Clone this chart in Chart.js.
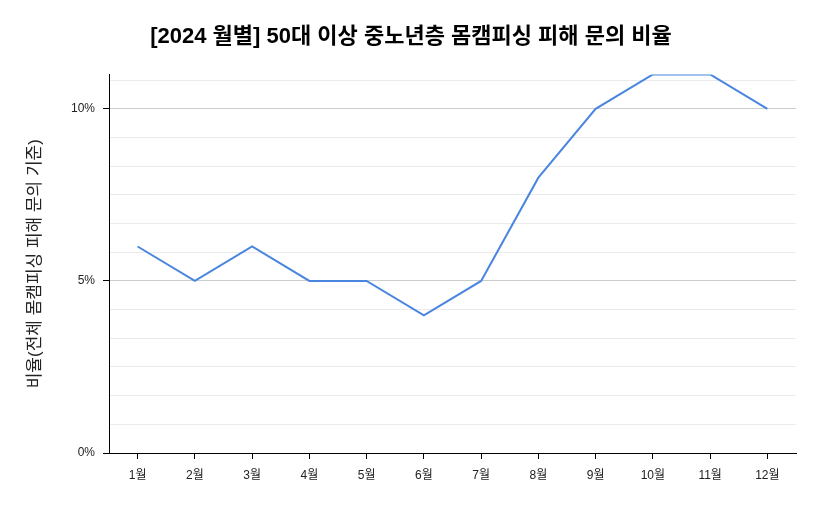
<!DOCTYPE html>
<html>
<head>
<meta charset="utf-8">
<script src="https://cdn.jsdelivr.net/npm/chart.js@4"></script>
<style>
  html, body { margin: 0; padding: 0; background: #fff; }
  #wrap { width: 822px; height: 508px; }
</style>
</head>
<body>
<div id="wrap"><canvas id="myChart" width="822" height="508"></canvas></div>
<script>
const chartTitle = "[2024 월별] 50대 이상 중노년층 몸캠피싱 피해 문의 비율";
const yAxisTitle = "비율(전체 몸캠피싱 피해 문의 기준)";
const months = ["1월", "2월", "3월", "4월", "5월", "6월", "7월", "8월", "9월", "10월", "11월", "12월"];
const ratio = [6, 5, 6, 5, 5, 4, 5, 8, 10, 11, 11, 10];
const yMajorTicks = [0, 5, 10];
const yMax = 11;
const minorPerMajor = 6;

const fontFamily = "'Liberation Sans', 'Noto Sans CJK KR', sans-serif";

function isMajor(v) {
  return yMajorTicks.some((m) => Math.abs(m - v) < 1e-6);
}

const ctx = document.getElementById("myChart").getContext("2d");
const myChart = new Chart(ctx, {
  type: "line",
  data: {
    labels: months,
    datasets: [
      {
        label: "비율",
        data: ratio,
        yAxisID: "y",
        borderColor: "#4a86e0",
        borderWidth: 2,
        pointRadius: 0,
        tension: 0,
        fill: false,
      },
    ],
  },
  options: {
    responsive: false,
    animation: false,
    layout: { padding: 0 },
    plugins: {
      legend: { display: false },
      tooltip: { enabled: false },
      title: {
        display: true,
        text: chartTitle,
        color: "#000",
        font: { family: fontFamily, size: 22, weight: "bold" },
        padding: { top: 24, bottom: 24 },
      },
    },
    scales: {
      x: {
        offset: true,
        border: { color: "#000", width: 1 },
        grid: {
          offset: false,
          drawOnChartArea: false,
          drawTicks: true,
          tickLength: 6,
          tickColor: "#000",
        },
        ticks: {
          color: "#222",
          font: { family: fontFamily, size: 12 },
          padding: 9,
          maxRotation: 0,
          autoSkip: false,
        },
        afterFit: (scale) => {
          scale.height = 508 - 453;
        },
      },
      y: {
        min: 0,
        max: yMax,
        border: { color: "#000", width: 1 },
        afterBuildTicks: (axis) => {
          const step = yMajorTicks[1] / minorPerMajor;
          const ticks = [];
          for (let i = 0; i * step < yMax - 1e-6; i++) {
            ticks.push({ value: i * step });
          }
          axis.ticks = ticks;
        },
        grid: {
          color: (c) => (isMajor(c.tick.value) ? "#cccccc" : "#ebebeb"),
          tickColor: (c) => (isMajor(c.tick.value) ? "#000" : "rgba(0,0,0,0)"),
          tickLength: 6,
          lineWidth: 1,
        },
        ticks: {
          color: "#222",
          font: { family: fontFamily, size: 12 },
          padding: 8,
          callback: (v) => (isMajor(v) ? Math.round(v) + "%" : ""),
        },
        title: {
          display: true,
          text: yAxisTitle,
          color: "#222",
          font: { family: fontFamily, size: 17 },
          padding: { top: 25, bottom: 0 },
        },
        afterFit: (scale) => {
          scale.width = 109;
        },
      },
      // empty right margin so the title stays centred on the whole canvas
      yRight: {
        position: "right",
        display: true,
        grid: { display: false },
        border: { display: false },
        ticks: { display: false },
        afterFit: (scale) => {
          scale.width = 26;
        },
      },
    },
  },
});
</script>
</body>
</html>
